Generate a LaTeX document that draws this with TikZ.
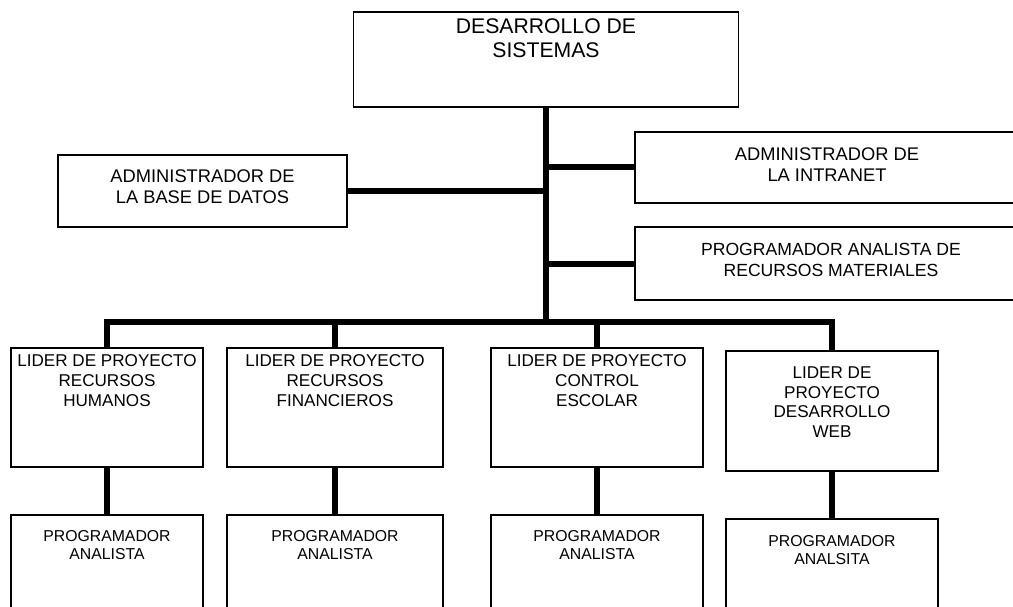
\documentclass[tikz,border=0pt]{standalone}
\usepackage{fontspec}
\setmainfont{Liberation Sans}
\begin{document}
\begin{tikzpicture}[x=1pt,y=-1pt,
  box/.style={draw=black, line width=1.4pt, inner sep=0pt, outer sep=0pt},
  conn/.style={line width=6pt},
  lbl/.style={inner sep=0pt, outer sep=0pt, align=center, anchor=north},
  ftop/.style={font=\fontsize{21.2}{23.5}\selectfont},
  fmid/.style={font=\fontsize{18.3}{21}\selectfont},
  flead/.style={font=\fontsize{17.1}{19.6}\selectfont},
  fprog/.style={font=\fontsize{15.8}{18}\selectfont}]
\clip (0,0) rectangle (1013,607);
\fill[white] (0,0) rectangle (1013,607);

% boxes
\node[box, minimum width=385pt, minimum height=95pt] (top) at (546,59.5) {};
\node[box, minimum width=289pt, minimum height=72pt] (adm) at (202.5,191) {};
\node[box, minimum width=384pt, minimum height=71pt] (r1) at (827,167.5) {};
\node[box, minimum width=384pt, minimum height=73pt] (r2) at (827,263.5) {};
\node[box, minimum width=192pt, minimum height=119pt] (l1) at (107,407.5) {};
\node[box, minimum width=216pt, minimum height=119pt] (l2) at (335,407.5) {};
\node[box, minimum width=212pt, minimum height=119pt] (l3) at (597,407.5) {};
\node[box, minimum width=212pt, minimum height=120pt] (l4) at (832,411) {};
\node[box, minimum width=192pt, minimum height=130pt] (p1) at (107,580) {};
\node[box, minimum width=216pt, minimum height=130pt] (p2) at (335,580) {};
\node[box, minimum width=212pt, minimum height=130pt] (p3) at (597,580) {};
\node[box, minimum width=212pt, minimum height=130pt] (p4) at (832,584) {};

% texts
\node[lbl, ftop] (ttop) at (546,19) {DESARROLLO DE\\SISTEMAS};
\node[lbl, fmid] (tadm) at (202.5,170) {ADMINISTRADOR DE\\LA BASE DE DATOS};
\node[lbl, fmid] (tr1) at (827,148) {ADMINISTRADOR DE\\LA INTRANET};
\node[lbl, font=\fontsize{17.6}{21}\selectfont] (tr2) at (831,243) {PROGRAMADOR ANALISTA DE\\RECURSOS MATERIALES};
\node[lbl, flead] (tl1) at (107,355) {LIDER DE PROYECTO\\RECURSOS\\HUMANOS};
\node[lbl, flead] (tl2) at (335,355) {LIDER DE PROYECTO\\RECURSOS\\FINANCIEROS};
\node[lbl, flead] (tl3) at (597,355) {LIDER DE PROYECTO\\CONTROL\\ESCOLAR};
\node[lbl, flead] (tl4) at (832,367) {LIDER DE\\PROYECTO\\DESARROLLO\\WEB};
\node[lbl, fprog] (tp1) at (107,530) {PROGRAMADOR\\ANALISTA};
\node[lbl, fprog] (tp2) at (335,530) {PROGRAMADOR\\ANALISTA};
\node[lbl, fprog] (tp3) at (597,530) {PROGRAMADOR\\ANALISTA};
\node[lbl, fprog] (tp4) at (832,535) {PROGRAMADOR\\ANALSITA};

% connectors
\coordinate (bar) at (546,322);
\draw[conn] (top.south) -- (bar);
\draw[conn] (l1.north) |- (bar) -| (l4.north);
\draw[conn] (l2.north) -- (l2.north |- bar);
\draw[conn] (l3.north) -- (l3.north |- bar);
\draw[conn] (adm.east) -- (adm.east -| top.south);
\draw[conn] (r1.west) -- (r1.west -| top.south);
\draw[conn] (r2.west) -- (r2.west -| top.south);
\draw[conn] (l1.south) -- (p1.north);
\draw[conn] (l2.south) -- (p2.north);
\draw[conn] (l3.south) -- (p3.north);
\draw[conn] (l4.south) -- (p4.north);
\end{tikzpicture}
\end{document}
